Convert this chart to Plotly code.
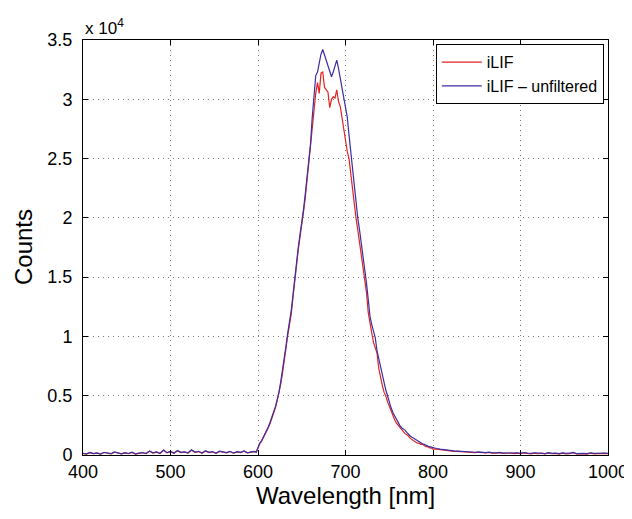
import numpy as np
import plotly.graph_objects as go

# ---- data (counts) ----
# baseline region 400..596 nm, 4 nm step
wl_base = np.arange(400, 597, 4)
ilif_base = [120, 80, 190, 110, 160, 70, 210, 130, 100, 230, 150, 90, 180, 120, 220, 80,
             140, 190, 110, 320, 160, 240, 130, 390, 180, 280, 150, 350, 210, 250, 170, 400,
             230, 290, 150, 330, 200, 270, 140, 300, 240, 180, 290, 150, 260, 210, 320, 170,
             240, 280]
unf_base = [150, 90, 210, 120, 180, 80, 230, 140, 110, 260, 170, 100, 200, 130, 240, 90,
            160, 210, 120, 350, 180, 260, 140, 420, 200, 300, 160, 380, 230, 270, 190, 440,
            250, 310, 170, 360, 220, 290, 150, 330, 260, 200, 310, 170, 280, 230, 350, 190,
            260, 300]

# emission band 598..800 nm, 2 nm step
wl_peak = np.arange(598, 801, 2)
ilif_peak = [220, 650, 950, 1150, 1450, 1650, 1950, 2350, 2700, 3100,
             3500, 4000, 4600, 5200, 6000, 6900, 7800, 9000, 10100, 11000,
             11900, 13300, 14800, 16000, 17300, 18400, 19300, 20500, 21700, 23200,
             24700, 25900, 27500, 28800, 30500, 31400, 30500, 32200, 32300, 31000,
             30800, 30600, 29300, 30000, 30200, 30100, 30800, 29800, 29400, 28400,
             27800, 26800, 25600, 25000, 23600, 22600, 21200, 20000, 19000, 18000,
             17000, 15800, 14700, 13700, 12000, 11000, 10300, 9500, 9000, 8600,
             7300, 6500, 5900, 5300, 5000, 4500, 4100, 3700, 3300, 3000,
             2700, 2500, 2300, 2100, 1900, 1800, 1700, 1600, 1400, 1300,
             1200, 1100, 1000, 1000, 900, 900, 800, 700, 700, 600,
             600, 500]
unf_peak = [250, 700, 1000, 1200, 1500, 1700, 2000, 2400, 2800, 3200,
            3600, 4100, 4700, 5300, 6200, 7100, 8000, 9200, 10300, 11200,
            12200, 13500, 15000, 16200, 17500, 18600, 19500, 20700, 22000, 23500,
            25000, 26200, 28500, 30000, 32000, 32300, 33200, 33800, 34200, 33700,
            33200, 32700, 32200, 31900, 32300, 32800, 33300, 32600, 31800, 31000,
            30400, 29500, 28500, 27000, 25500, 24200, 22700, 21200, 20000, 19000,
            17900, 16900, 15700, 14500, 13100, 11700, 11000, 10400, 9900, 8800,
            8100, 7300, 6600, 6000, 5500, 5000, 4400, 4000, 3600, 3300,
            3000, 2800, 2500, 2300, 2200, 2100, 1900, 1700, 1600, 1500,
            1400, 1300, 1200, 1100, 1000, 950, 900, 800, 750, 700,
            650, 600]

# tail 804..1000 nm, 4 nm step
wl_tail = np.arange(804, 1001, 4)
ilif_tail = [500, 450, 400, 380, 340, 310, 300, 270, 250, 270, 220, 200, 230, 180, 170, 210,
             150, 160, 190, 130, 150, 170, 120, 160, 110, 180, 130, 100, 160, 120, 150, 90,
             170, 110, 130, 80, 150, 100, 120, 190, 90, 130, 110, 80, 160, 100, 120, 90,
             140, 110]
unf_tail = [550, 500, 450, 420, 380, 350, 330, 300, 280, 300, 250, 230, 260, 210, 200, 240,
            180, 190, 220, 160, 170, 200, 150, 180, 140, 210, 160, 130, 190, 150, 170, 120,
            200, 140, 160, 110, 180, 130, 150, 220, 120, 160, 140, 110, 190, 130, 150, 120,
            170, 140]

wavelength = np.concatenate([wl_base, wl_peak, wl_tail])
ilif = ilif_base + ilif_peak + ilif_tail
ilif_unfiltered = unf_base + unf_peak + unf_tail

y_tick_vals = [0, 5000, 10000, 15000, 20000, 25000, 30000, 35000]
y_tick_text = ["0", "0.5", "1", "1.5", "2", "2.5", "3", "3.5"]
x_tick_vals = [400, 500, 600, 700, 800, 900, 1000]

FONT = "Liberation Sans, Arial, Helvetica, sans-serif"

fig = go.Figure()
fig.add_trace(go.Scatter(x=wavelength, y=ilif, mode="lines", name="iLIF",
                         line=dict(color="#e3231f", width=1.2)))
fig.add_trace(go.Scatter(x=wavelength, y=ilif_unfiltered, mode="lines",
                         name="iLIF \u2013 unfiltered",
                         line=dict(color="#3d2ea3", width=1.2)))

axis_common = dict(showline=True, linecolor="black", linewidth=1, mirror="ticks",
                   ticks="inside", ticklen=5, tickcolor="black", automargin=False,
                   showgrid=True, gridcolor="#777777", griddash="1px,4px", gridwidth=1,
                   zeroline=False, tickfont=dict(size=18, color="black", family=FONT))

fig.update_xaxes(range=[400, 1000], tickvals=x_tick_vals, ticklabelstandoff=0, **axis_common)
fig.update_yaxes(range=[0, 35000], tickvals=y_tick_vals, ticktext=y_tick_text,
                 ticklabelstandoff=6, **axis_common)

fig.add_annotation(x=0, y=1, xref="paper", yref="paper", xanchor="left", yanchor="bottom",
                   text="x 10<sup>4</sup>", showarrow=False, yshift=0,
                   font=dict(size=17, color="black", family=FONT))
fig.add_annotation(x=0.5, y=0, xref="paper", yref="paper", xanchor="center", yanchor="top",
                   text="Wavelength [nm]", showarrow=False, yshift=-25,
                   font=dict(size=24, color="black", family=FONT))
fig.add_annotation(x=0, y=0.5, xref="paper", yref="paper", xanchor="right", yanchor="middle",
                   text="Counts", showarrow=False, textangle=-90, xshift=-44,
                   font=dict(size=24, color="black", family=FONT))

fig.update_layout(
    width=632, height=519,
    margin=dict(l=75, r=32, t=32, b=72),
    paper_bgcolor="white", plot_bgcolor="white",
    font=dict(family=FONT, color="black"),
    legend=dict(x=0.992, y=0.99, xanchor="right", yanchor="top",
                bgcolor="white", bordercolor="black", borderwidth=1,
                font=dict(size=16, color="black", family=FONT),
                tracegroupgap=0, itemwidth=40),
    showlegend=True,
)

fig.write_html("out.html")
